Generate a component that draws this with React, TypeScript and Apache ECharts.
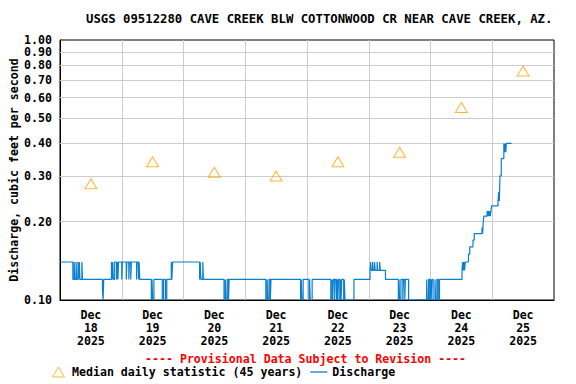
import React, { useEffect, useRef } from "react";
import * as echarts from "echarts";

const TITLE = "USGS 09512280 CAVE CREEK BLW COTTONWOOD CR NEAR CAVE CREEK, AZ.";
const Y_NAME = "Discharge, cubic feet per second";
const PROVISIONAL = "---- Provisional Data Subject to Revision ----";
const MEDIAN_NAME = "Median daily statistic (45 years)";
const DISCHARGE_NAME = "Discharge";

const dayLabels = ["18", "19", "20", "21", "22", "23", "24", "25"];
const monthLabel = "Dec";
const yearLabel = "2025";

// Median daily statistic, plotted at noon of each day (hours since Dec 18 00:00)
const medianHours = [12, 36, 60, 84, 108, 132, 156, 180];
const medianValues = [0.28, 0.34, 0.31, 0.3, 0.34, 0.37, 0.55, 0.76];

// y tick labels (log axis)
const yTicks = [0.1, 0.2, 0.3, 0.4, 0.5, 0.6, 0.7, 0.8, 0.9, 1.0];

// Discharge change points: hours since Dec 18 00:00 and value (cfs)
const dischargeHours = [
  0, 5.0, 5.5, 5.75, 6.25, 6.5, 7.0, 7.25, 7.5, 7.75, 8.5, 8.75, 16.5, 16.75, 17.0,
  20.0, 20.25, 20.5, 20.75, 21.25, 22.0, 22.25, 22.5, 22.75,
  24.0, 24.25, 25.75, 26.0, 26.75, 27.0, 27.5, 27.75, 29.75, 30.0, 30.5, 30.75, 31.0,
  35.5, 35.75, 36.0, 36.5, 39.75, 40.25, 41.0, 41.5, 43.25, 43.5, 43.75,
  54.25, 54.5, 54.75, 55.5, 55.75, 63.75, 64.25, 64.5, 65.0, 65.5, 65.75,
  80.0, 80.5, 80.75, 81.25, 81.75, 82.0,
  93.5, 93.75, 94.0, 94.5, 96.75, 97.0, 97.25, 98.0,
  105.25, 105.75, 106.0, 106.25, 106.75, 107.0, 107.5, 107.75, 108.0, 108.25, 108.75,
  109.0, 109.25, 109.5, 110.25, 110.5, 110.75, 114.25,
  120.5, 120.75, 121.0, 121.5, 121.75, 122.25, 122.5, 123.25, 123.5, 124.25, 124.5, 126.5,
  131.5, 131.75, 132.0, 132.5, 133.25, 133.5, 134.0, 134.25, 135.5,
  142.5, 142.75, 143.25, 143.75, 144.0, 144.25, 144.5, 145.0, 145.75, 146.0, 146.5, 147.0, 147.5,
  156.25, 156.5, 156.75, 157.0, 157.25, 157.5, 158.75, 159.25, 160.5, 161.0,
  164.0, 164.25, 164.5, 164.75, 166.0, 166.25, 166.5, 166.75, 167.0, 167.25, 167.5, 167.75,
  170.25, 170.5, 170.75, 171.0, 171.5, 172.5, 172.75, 173.0, 173.25, 173.5, 175.5,
];
const dischargeValues = [
  0.14, 0.12, 0.14, 0.12, 0.14, 0.12, 0.14, 0.12, 0.14, 0.12, 0.14, 0.12, 0.11, 0.1, 0.12,
  0.14, 0.12, 0.14, 0.12, 0.14, 0.12, 0.14, 0.12, 0.14,
  0.12, 0.14, 0.12, 0.14, 0.12, 0.14, 0.12, 0.14, 0.12, 0.14, 0.12, 0.14, 0.12,
  0.1, 0.12, 0.1, 0.12, 0.1, 0.12, 0.1, 0.12, 0.14, 0.12, 0.14,
  0.12, 0.14, 0.12, 0.14, 0.12, 0.1, 0.12, 0.1, 0.12, 0.1, 0.12,
  0.1, 0.12, 0.1, 0.12, 0.1, 0.12,
  0.1, 0.12, 0.1, 0.12, 0.1, 0.12, 0.1, 0.12,
  0.1, 0.12, 0.1, 0.12, 0.1, 0.12, 0.1, 0.12, 0.1, 0.12, 0.1,
  0.12, 0.1, 0.12, 0.1, 0.12, 0.1, 0.12,
  0.13, 0.14, 0.13, 0.14, 0.13, 0.14, 0.13, 0.14, 0.13, 0.14, 0.13, 0.12,
  0.1, 0.12, 0.1, 0.12, 0.1, 0.12, 0.1, 0.12, 0.1,
  0.12, 0.1, 0.12, 0.1, 0.12, 0.1, 0.12, 0.1, 0.12, 0.1, 0.12, 0.1, 0.12,
  0.13, 0.14, 0.13, 0.14, 0.13, 0.14, 0.15, 0.16, 0.17, 0.18,
  0.19, 0.18, 0.2, 0.21, 0.22, 0.21, 0.22, 0.21, 0.22, 0.21, 0.22, 0.23,
  0.24, 0.26, 0.24, 0.3, 0.35, 0.4, 0.37, 0.4, 0.37, 0.4, 0.4,
];

const FONT = "'DejaVu Sans Mono', monospace";
const LINE_COLOR = "#0b7fcf";
const GRID_COLOR = "#cccccc";

export default function App() {
  const ref = useRef<HTMLDivElement>(null);

  useEffect(() => {
    if (!ref.current) return;
    const chart = echarts.init(ref.current, null, { renderer: "svg" });

    const categories = dayLabels.map((d) => `${monthLabel}\n${d}\n${yearLabel}`);
    const dischargeData = dischargeHours.map((h, i) => [h, dischargeValues[i]]);
    const medianData = medianHours.map((h, i) => [h, medianValues[i]]);

    const textBase = { fontFamily: FONT, fontWeight: "bold" as const, fontSize: 11.6, color: "#000" };

    chart.setOption({
      animation: false,
      backgroundColor: "#fff",
      title: {
        text: TITLE,
        left: 86,
        top: 13,
        padding: 0,
        textStyle: { ...textBase, fontSize: 12.3 },
      },
      grid: {
        left: 58,
        right: 22,
        top: 40,
        bottom: 84,
        show: true,
        borderColor: "#000",
        borderWidth: 1,
        backgroundColor: "transparent",
      },
      legend: {
        left: 52,
        top: 366,
        padding: 0,
        itemWidth: 17,
        itemHeight: 10,
        itemGap: 8,
        symbolKeepAspect: true,
        textStyle: { ...textBase },
        data: [
          {
            name: MEDIAN_NAME,
            icon: "path://M6,0 L12,10 L0,10 Z",
            itemStyle: { color: "transparent", borderColor: "#FFA500", borderWidth: 1 },
          },
          {
            name: DISCHARGE_NAME,
            icon: "path://M0,0 L17,0 L17,1.3 L0,1.3 Z",
            itemStyle: { color: LINE_COLOR, borderWidth: 0 },
          },
        ],
      },
      graphic: [
        {
          type: "text",
          left: 145,
          top: 353,
          style: {
            text: PROVISIONAL,
            fill: "#f00",
            font: `bold 11.6px ${FONT}`,
          },
        },
      ],
      xAxis: [
        {
          type: "value",
          min: 0,
          max: 192,
          interval: 24,
          axisLine: { show: true, lineStyle: { color: "#000", width: 1 } },
          axisTick: { show: false },
          axisLabel: { show: false },
          splitLine: { show: true, showMinLine: false, showMaxLine: false, lineStyle: { color: GRID_COLOR, width: 1 } },
        },
        {
          type: "category",
          position: "bottom",
          data: categories,
          boundaryGap: true,
          axisLine: { show: false },
          axisTick: { show: false },
          splitLine: { show: false },
          axisLabel: { ...textBase, margin: 8, lineHeight: 13, interval: 0 },
        },
      ],
      yAxis: {
        type: "log",
        logBase: 10,
        min: 0.1,
        max: 1,
        name: Y_NAME,
        nameLocation: "middle",
        nameGap: 40,
        nameTextStyle: { ...textBase },
        axisLine: { show: true, lineStyle: { color: "#000", width: 1 } },
        axisTick: { show: false },
        axisLabel: { show: false },
        splitLine: { show: false },
      },
      series: [
        {
          name: MEDIAN_NAME,
          type: "scatter",
          xAxisIndex: 0,
          yAxisIndex: 0,
          data: medianData,
          symbol: "triangle",
          symbolSize: [12, 10],
          itemStyle: { color: "transparent", borderColor: "#FFA500", borderWidth: 1 },
          z: 3,
          markLine: {
            silent: true,
            symbol: "none",
            z: 1,
            animation: false,
            label: {
              show: true,
              position: "start",
              distance: 8,
              formatter: (p: any) => Number(p.value).toFixed(2),
              ...textBase,
            },
            lineStyle: { color: GRID_COLOR, width: 1, type: "solid" },
            data: yTicks.map((v) => ({
              yAxis: v,
              lineStyle:
                v === 0.1 || v === 1.0
                  ? { color: "rgba(0,0,0,0)", width: 1, type: "solid" }
                  : { color: GRID_COLOR, width: 1, type: "solid" },
            })),
          },
        },
        {
          name: DISCHARGE_NAME,
          type: "line",
          xAxisIndex: 0,
          yAxisIndex: 0,
          data: dischargeData,
          step: "end",
          symbol: "none",
          lineStyle: { color: LINE_COLOR, width: 1.2 },
          itemStyle: { color: LINE_COLOR },
          z: 2,
        },
      ],
    });

    return () => chart.dispose();
  }, []);

  return (
    <div
      ref={ref}
      style={{ position: "absolute", left: 0, top: 0, width: 576, height: 384 }}
    />
  );
}
